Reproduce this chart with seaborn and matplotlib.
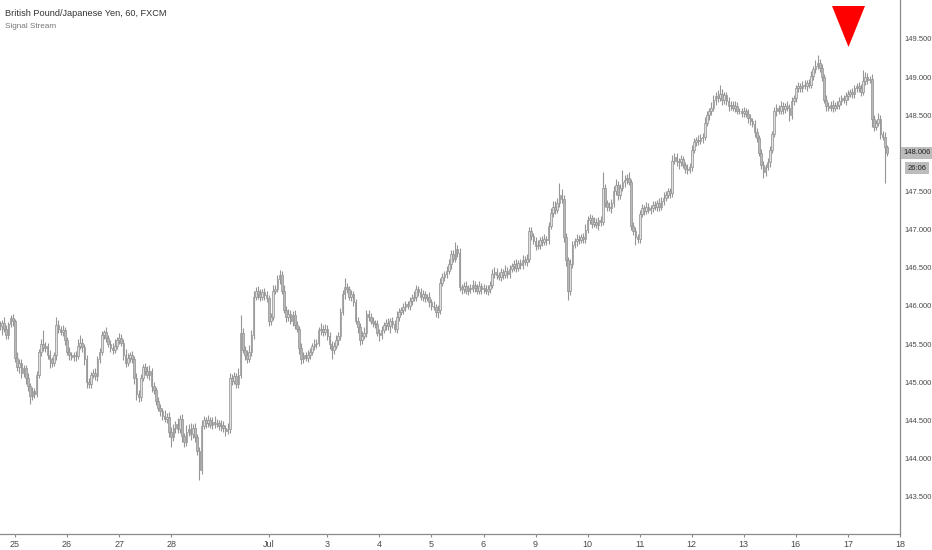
import matplotlib
matplotlib.use("Agg")
import matplotlib.pyplot as plt
import matplotlib.transforms as mtransforms
import numpy as np
import seaborn as sns

# GBP/JPY hourly candles (FXCM), one inner list per trading session
first_open = 145.74

closes = [
    # Jun 22 (last hours)
    [145.74, 145.78, 145.70, 145.62, 145.76, 145.84, 145.80],
    # Jun 25
    [145.32, 145.20, 145.25, 145.12, 145.18, 145.05, 144.95, 144.82, 144.88, 144.85, 145.10, 145.40,
     145.50, 145.45, 145.48, 145.36, 145.30, 145.25, 145.35, 145.75, 145.70, 145.66, 145.68, 145.55],
    # Jun 26
    [145.40, 145.35, 145.33, 145.36, 145.34, 145.48, 145.52, 145.46, 145.30, 145.00, 144.98, 145.10,
     145.12, 145.08, 145.30, 145.40, 145.62, 145.66, 145.58, 145.50, 145.45, 145.42, 145.48, 145.55],
    # Jun 27
    [145.58, 145.52, 145.35, 145.25, 145.32, 145.36, 145.30, 145.05, 144.85, 144.80, 145.05, 145.20,
     145.15, 145.10, 145.15, 144.95, 144.90, 144.75, 144.66, 144.62, 144.56, 144.52, 144.55, 144.35],
    # Jun 28
    [144.28, 144.40, 144.45, 144.38, 144.52, 144.30, 144.22, 144.35, 144.38, 144.32, 144.40, 144.28,
     144.10, 143.85, 144.42, 144.50, 144.46, 144.50, 144.44, 144.48, 144.45, 144.47, 144.42, 144.44],
    # Jun 29
    [144.40, 144.36, 144.38, 145.05, 145.02, 145.08, 144.98, 145.10, 145.65, 145.42, 145.35, 145.30,
     145.40, 145.62, 146.12, 146.20, 146.15, 146.12, 146.18, 146.14, 146.10],
    # Jul 1
    [145.80, 145.85, 146.20],
    # Jul 2
    [146.22, 146.35, 146.40, 146.20, 145.95, 145.85, 145.90, 145.80, 145.88, 145.75, 145.70, 145.45,
     145.30, 145.35, 145.32, 145.36, 145.40, 145.48, 145.50, 145.52, 145.68, 145.70, 145.66, 145.70],
    # Jul 3
    [145.60, 145.50, 145.42, 145.48, 145.55, 145.60, 145.92, 146.15, 146.25, 146.22, 146.12, 146.15,
     146.05, 145.80, 145.72, 145.55, 145.60, 145.65, 145.90, 145.85, 145.80, 145.78, 145.76, 145.65],
    # Jul 4
    [145.62, 145.68, 145.75, 145.78, 145.74, 145.80, 145.76, 145.70, 145.85, 145.92, 145.95, 145.98,
     146.02, 146.00, 146.06, 146.10, 146.12, 146.22, 146.18, 146.12, 146.15, 146.10, 146.12, 146.05],
    # Jul 5
    [146.00, 145.98, 145.92, 145.94, 146.30, 146.38, 146.42, 146.46, 146.55, 146.68, 146.62, 146.75,
     146.70, 146.25, 146.22, 146.26, 146.20, 146.24, 146.22, 146.28, 146.24, 146.20, 146.26, 146.22],
    # Jul 6
    [146.24, 146.20, 146.22, 146.28, 146.42, 146.45, 146.40, 146.38, 146.44, 146.40, 146.46, 146.42,
     146.48, 146.52, 146.55, 146.50, 146.56, 146.54, 146.60, 146.58, 146.62],
    # Jul 8
    [146.98, 146.92, 146.85],
    # Jul 9
    [146.78, 146.80, 146.86, 146.84, 146.88, 146.86, 147.05, 147.22, 147.30, 147.26, 147.35, 147.45,
     147.40, 146.90, 146.60, 146.20, 146.55, 146.80, 146.85, 146.88, 146.86, 146.90, 146.88, 147.00],
    # Jul 10
    [147.12, 147.15, 147.08, 147.10, 147.06, 147.12, 147.10, 147.55, 147.35, 147.30, 147.28, 147.35,
     147.50, 147.58, 147.45, 147.55, 147.62, 147.65, 147.68, 147.62, 147.05, 146.98, 146.90, 146.88],
    # Jul 11
    [147.20, 147.28, 147.25, 147.30, 147.26, 147.28, 147.32, 147.30, 147.35, 147.30, 147.38, 147.42,
     147.45, 147.50, 147.48, 147.90, 147.95, 147.90, 147.88, 147.92, 147.85, 147.80, 147.78, 147.82],
    # Jul 12
    [148.05, 148.15, 148.18, 148.16, 148.20, 148.22, 148.40, 148.50, 148.55, 148.60, 148.70, 148.75,
     148.72, 148.78, 148.70, 148.76, 148.68, 148.62, 148.64, 148.60, 148.62, 148.56, 148.55, 148.53],
    # Jul 13
    [148.56, 148.52, 148.46, 148.42, 148.38, 148.28, 148.20, 148.00, 147.85, 147.75, 147.82, 147.88,
     148.05, 148.25, 148.55, 148.60, 148.56, 148.62, 148.58, 148.62, 148.60],
    # Jul 15
    [148.50, 148.68, 148.72],
    # Jul 16
    [148.85, 148.88, 148.86, 148.90, 148.88, 148.92, 148.90, 149.02, 149.10, 149.15, 149.18, 149.12,
     149.00, 148.70, 148.62, 148.60, 148.64, 148.60, 148.62, 148.64, 148.68, 148.72, 148.70, 148.75],
    # Jul 17
    [148.78, 148.80, 148.78, 148.85, 148.88, 148.86, 148.80, 148.95, 149.00, 148.96, 148.98, 148.45,
     148.35, 148.40, 148.45, 148.25, 148.22, 148.08, 148.006],
]

# upper / lower wick length above / below the body, in pips (0.01 JPY)
wick_up = [
    [6, 4, 8, 5, 3, 4, 6],
    [3, 8, 5, 6, 4, 5, 7, 4, 6, 5, 5, 4, 6, 19, 5, 4, 6, 3, 5, 10, 6, 4, 7, 5],
    [4, 6, 5, 3, 5, 8, 10, 6, 4, 5, 6, 4, 5, 6, 4, 5, 5, 3, 6, 4, 5, 7, 8, 4],
    [6, 5, 4, 8, 6, 3, 5, 4, 7, 5, 6, 4, 5, 6, 8, 3, 5, 4, 6, 5, 4, 7, 5, 6],
    [6, 5, 4, 8, 5, 6, 4, 9, 7, 8, 5, 6, 4, 5, 8, 6, 4, 7, 5, 6, 8, 5, 4, 6],
    [5, 4, 8, 7, 6, 5, 4, 8, 23, 6, 5, 7, 9, 6, 8, 5, 6, 7, 4, 6, 5],
    [4, 6, 8],
    [6, 5, 7, 6, 8, 5, 6, 4, 5, 7, 5, 4, 6, 5, 4, 6, 5, 4, 6, 5, 4, 8, 5, 6],
    [5, 6, 4, 5, 7, 6, 5, 6, 12, 5, 4, 6, 5, 4, 6, 5, 7, 8, 5, 4, 6, 5, 4, 6],
    [5, 6, 4, 5, 6, 4, 5, 6, 8, 5, 4, 6, 5, 4, 6, 5, 7, 6, 4, 5, 6, 5, 4, 6],
    [4, 6, 5, 7, 6, 5, 4, 6, 7, 5, 5, 9, 5, 6, 4, 5, 6, 4, 5, 6, 4, 5, 6, 4],
    [5, 4, 6, 5, 7, 6, 5, 4, 6, 5, 8, 5, 6, 4, 5, 6, 4, 5, 7, 5, 6],
    [6, 5, 4],
    [5, 6, 4, 5, 6, 4, 5, 6, 8, 7, 6, 16, 8, 6, 5, 4, 6, 5, 4, 6, 5, 4, 6, 7],
    [6, 5, 4, 6, 5, 4, 6, 21, 5, 4, 6, 5, 7, 8, 6, 5, 16, 6, 5, 7, 4, 5, 6, 4],
    [6, 5, 4, 6, 5, 4, 6, 5, 4, 6, 5, 7, 6, 5, 4, 8, 6, 5, 4, 6, 5, 4, 6, 5],
    [6, 5, 4, 6, 5, 4, 8, 6, 5, 7, 6, 5, 8, 12, 6, 5, 4, 6, 5, 4, 6, 5, 4, 5],
    [5, 4, 6, 5, 4, 6, 5, 4, 6, 5, 4, 6, 5, 4, 6, 5, 4, 6, 5, 4, 6],
    [5, 6, 4],
    [5, 6, 4, 5, 6, 4, 5, 6, 5, 8, 11, 6, 5, 4, 6, 5, 4, 6, 5, 4, 6, 5, 4, 6],
    [5, 4, 6, 5, 4, 6, 5, 14, 6, 5, 4, 6, 5, 4, 8, 5, 4, 6, 3],
]
wick_dn = [
    [5, 12, 4, 6, 5, 4, 6],
    [6, 5, 8, 6, 5, 7, 6, 11, 5, 6, 4, 5, 6, 4, 5, 6, 11, 5, 4, 6, 5, 4, 5, 6],
    [5, 6, 4, 5, 6, 4, 5, 6, 8, 7, 5, 6, 4, 5, 6, 5, 4, 6, 5, 4, 6, 5, 4, 5],
    [5, 4, 6, 5, 4, 6, 5, 8, 9, 6, 5, 4, 6, 5, 7, 8, 6, 5, 4, 6, 5, 4, 6, 7],
    [13, 5, 6, 4, 5, 8, 7, 5, 6, 8, 5, 7, 6, 13, 5, 4, 6, 5, 4, 6, 5, 4, 5, 6],
    [5, 6, 4, 5, 6, 4, 5, 6, 5, 4, 6, 5, 4, 6, 5, 4, 6, 5, 4, 6, 5],
    [6, 5, 4],
    [5, 4, 6, 5, 4, 6, 5, 4, 6, 5, 4, 8, 6, 5, 4, 6, 5, 4, 6, 5, 4, 6, 5, 4],
    [5, 6, 12, 5, 4, 6, 5, 4, 6, 5, 4, 6, 5, 4, 8, 6, 5, 4, 6, 5, 4, 6, 5, 4],
    [8, 5, 4, 6, 5, 10, 5, 4, 6, 5, 4, 6, 5, 4, 6, 5, 4, 6, 5, 4, 6, 5, 4, 6],
    [5, 4, 6, 8, 5, 4, 6, 5, 4, 6, 5, 4, 6, 5, 6, 5, 4, 6, 5, 4, 6, 5, 4, 6],
    [5, 4, 6, 5, 4, 6, 5, 4, 6, 5, 4, 6, 5, 4, 6, 5, 4, 6, 5, 4, 6],
    [5, 6, 4],
    [5, 4, 6, 5, 4, 6, 5, 4, 6, 5, 4, 6, 5, 6, 8, 12, 6, 5, 4, 6, 5, 4, 6, 5],
    [5, 4, 6, 5, 4, 6, 5, 4, 6, 5, 4, 6, 5, 4, 6, 5, 4, 6, 5, 4, 6, 5, 10, 6],
    [5, 4, 6, 5, 4, 6, 5, 4, 6, 5, 4, 6, 5, 4, 6, 5, 4, 6, 8, 5, 4, 6, 5, 4],
    [5, 4, 6, 5, 4, 6, 5, 4, 6, 5, 4, 6, 5, 4, 6, 5, 4, 6, 5, 4, 6, 5, 4, 6],
    [5, 4, 6, 5, 4, 6, 5, 4, 6, 7, 5, 4, 6, 5, 4, 6, 5, 4, 6, 5, 4],
    [8, 5, 4],
    [5, 4, 6, 5, 4, 6, 5, 4, 6, 5, 4, 6, 5, 4, 6, 5, 4, 6, 5, 4, 6, 5, 4, 6],
    [5, 4, 6, 5, 4, 6, 5, 4, 6, 5, 4, 10, 6, 5, 4, 6, 5, 47, 4],
]

# x axis day labels, one per session above ("" = no label)
session_labels = ["", "25", "26", "27", "28", "", "Jul", "", "3", "4", "5", "6", "",
                  "9", "10", "11", "12", "13", "", "16", "17"]
next_label = "18"
# 148.000 is hidden behind the last-price label
price_ticks = [143.5, 144.0, 144.5, 145.0, 145.5, 146.0, 146.5, 147.0, 147.5, 148.5, 149.0, 149.5]
title = "British Pound/Japanese Yen, 60, FXCM"
indicator = "Signal Stream"
countdown = "26:06"
signal_session = "17"  # sell signal shown at the start of this session

sns.set_style("white")
plt.rcParams["font.family"] = ["Liberation Sans", "DejaVu Sans"]

c = np.concatenate(closes)
o = np.concatenate([[first_open], c[:-1]])
hi = np.maximum(o, c) + np.concatenate(wick_up) / 100
lo = np.minimum(o, c) - np.concatenate(wick_dn) / 100
x = np.arange(len(c))
assert len(hi) == len(c) and len(lo) == len(c)

sizes = [len(s) for s in closes]
starts = np.concatenate([[0], np.cumsum(sizes)[:-1]])
tick_pos = [s for s, lab in zip(starts, session_labels) if lab]
tick_lab = [lab for lab in session_labels if lab]
tick_pos.append(starts[-1] + 24)
tick_lab.append(next_label)

fig = plt.figure(figsize=(9.32, 5.5), dpi=100)
ax = fig.add_axes([0, 16 / 550, 900 / 932, 534 / 550])

edge = "#969696"
up = c >= o
ax.vlines(x, lo, hi, color=edge, lw=0.8, zorder=1)
body = np.maximum(np.abs(c - o), 0.008)
ax.bar(x[up], body[up], bottom=o[up], width=0.75, color="#e0e0e0",
       edgecolor=edge, linewidth=0.55, zorder=2)
ax.bar(x[~up], body[~up], bottom=c[~up], width=0.75, color="#b8b8b8",
       edgecolor=edge, linewidth=0.55, zorder=2)

# sell signal triangle at the top of the pane
sig_x = starts[session_labels.index(signal_session)]
tri = [(-16.5, 20.5), (16.5, 20.5), (0, -20.5)]
trans = mtransforms.blended_transform_factory(ax.transData, ax.transAxes)
ax.scatter([sig_x], [1 - 26 / 534], marker=tri, s=870, color="#ff0000",
           linewidths=0, transform=trans, zorder=5, clip_on=False)

ax.set_xlim(0.1, starts[-1] + 24)
ax.set_ylim(143.01, 150.01)
ax.yaxis.tick_right()
ax.set_yticks(price_ticks)
ax.set_yticklabels([f"{p:.3f}" for p in price_ticks])
ax.set_xticks(tick_pos)
ax.set_xticklabels(tick_lab)
ax.tick_params(axis="both", length=2.5, width=0.8, color="#8a8a8a",
               labelsize=5.5, labelcolor="#4a4a4a", pad=0.8)
ax.tick_params(axis="x", labelsize=6.5, pad=2)
ax.tick_params(axis="y", right=True, left=False)
ax.tick_params(axis="x", bottom=True)
sns.despine(ax=ax, left=True, top=True, right=False, bottom=False)
for side in ["right", "bottom"]:
    ax.spines[side].set_color("#8a8a8a")
    ax.spines[side].set_linewidth(0.9)

# last price + bar countdown labels
ytrans = mtransforms.blended_transform_factory(ax.transAxes, ax.transData)
ax.text(1.0035, c[-1], f"{c[-1]:.3f}", transform=ytrans, fontsize=5.5, color="#222222",
        va="center", ha="left", clip_on=False,
        bbox=dict(boxstyle="square,pad=0.3", fc="#bcbcbc", ec="none"))
ax.annotate(countdown, xy=(1.0, c[-1]), xycoords=ytrans, xytext=(5.5, -11),
            textcoords="offset points", fontsize=5.5, color="#222222", va="center", ha="left",
            annotation_clip=False,
            bbox=dict(boxstyle="square,pad=0.3", fc="#bcbcbc", ec="none"))

fig.text(5 / 932, 1 - 13 / 550, title, fontsize=6.6, color="#333333", va="center",
         ha="left", fontweight="medium")
fig.text(5 / 932, 1 - 27 / 550, indicator, fontsize=5.9, color="#777777", va="center",
         ha="left")

fig.savefig("out.png", dpi=100, facecolor="white")
